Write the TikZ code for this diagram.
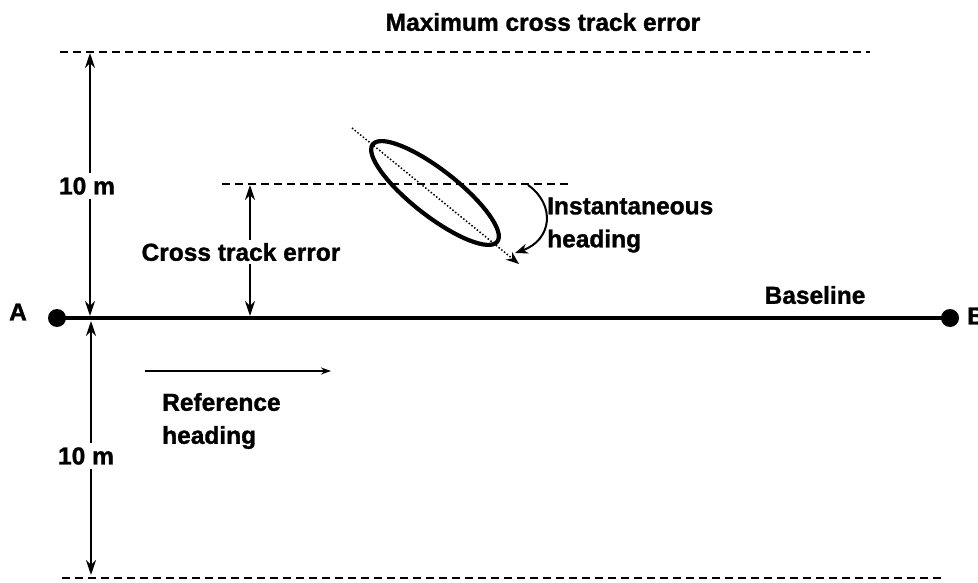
\documentclass[tikz,border=0pt]{standalone}
\usepackage{fontspec}
\setmainfont{Liberation Sans}[BoldFeatures={FakeBold=1.3}]
\usetikzlibrary{arrows.meta}
\begin{document}
\begin{tikzpicture}[x=1pt,y=-1pt,
  lbl/.style={font=\bfseries\fontsize{24.5}{33}\selectfont, inner sep=1pt},
  gap/.style={lbl, fill=white, inner sep=4pt},
  dashline/.style={line width=1.7pt, dash pattern=on 8pt off 5pt},
  dimarrow/.style={line width=2pt, -{Stealth[length=15pt,width=10pt]}},
  tip/.style={-{Stealth[length=13pt,width=10pt]}}
]
\useasboundingbox (0,0) rectangle (978,583);
\clip (0,0) rectangle (978,583);

% title
\node[lbl] (title) at (543,22) {Maximum cross track error};

% max lines
\coordinate (tl) at (60,52);
\coordinate (tr) at (870,52);
\draw[dashline] (tl) -- (tr);
\coordinate (bl) at (62,578);
\coordinate (br) at (945,578);
\draw[dashline] (bl) -- (br);

% baseline
\coordinate (A) at (57,318);
\coordinate (B) at (950,318);
\draw[line width=4.2pt] (A) -- (B);
\fill (A) circle[radius=9];
\fill (B) circle[radius=9];
\node[lbl] (Alab) at (18,312) {A};
\node[lbl, anchor=west] (Blab) at (966,316) {B};
\node[lbl] (baselab) at (815,295) {Baseline};

% upper 10 m
\coordinate (u1) at (90,184);
\coordinate (utop) at (90,53);
\coordinate (ubot) at (90,316);
\draw[dimarrow] (u1) -- (utop);
\draw[dimarrow] (u1) -- (ubot);
\node[gap] (u10) at (87,186) {10 m};

% lower 10 m
\coordinate (l1) at (86,456);
\coordinate (ltop) at (91,321);
\coordinate (lbot) at (91,575);
\draw[dimarrow] (l1 -| ltop) -- (ltop);
\draw[dimarrow] (l1 -| ltop) -- (lbot);
\node[gap] (l10) at (l1) {10 m};

% cross track error
\coordinate (cl) at (222,184);
\coordinate (cr) at (570,184);
\draw[dashline] (cl) -- (cr);
\coordinate (c1) at (250,250);
\coordinate (ctop) at (250,185);
\coordinate (cbot) at (250,316);
\draw[dimarrow] (c1) -- (ctop);
\draw[dimarrow] (c1) -- (cbot);
\node[lbl, fill=white, inner sep=3pt] (ctelab) at (241,252) {Cross track error};

% vessel ellipse
\coordinate (ec) at (435,193);
\draw[line width=4.2pt] (ec) ellipse[x radius=79pt, y radius=23pt, rotate=-38];
\coordinate (hs) at (352,128);
\coordinate (he) at (519,264);
\draw[line width=1.5pt, dotted, tip] (hs) -- (he);

% instantaneous heading curve
\coordinate (is) at (528,185);
\coordinate (ie) at (515,253);
\draw[line width=2pt, tip] (is) .. controls (556,205) and (552,240) .. (ie);
\node[lbl, anchor=west, align=left] (ihlab) at (546,225) {Instantaneous\\heading};

% reference heading
\coordinate (rs) at (145,371);
\coordinate (re) at (331,371);
\draw[line width=1.4pt, -{Stealth[length=10pt,width=7pt]}] (rs) -- (re);
\node[lbl, anchor=west, align=left] (rhlab) at (161,421) {Reference\\heading};
\end{tikzpicture}
\end{document}
